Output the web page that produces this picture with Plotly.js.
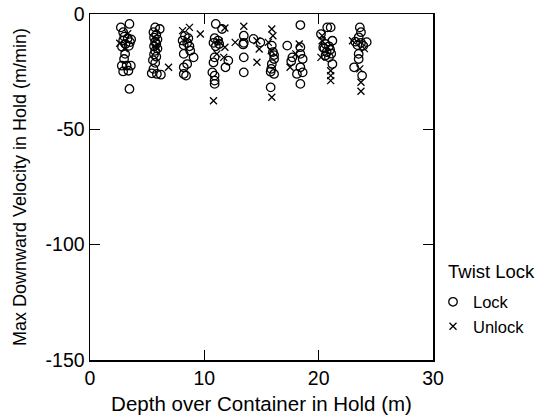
<!DOCTYPE html>
<html>
<head>
<meta charset="utf-8">
<script src="https://cdn.plot.ly/plotly-3.0.1.min.js"></script>
<style>html,body{margin:0;padding:0;background:#fff;}#chart{width:560px;height:420px;}</style>
</head>
<body>
<div id="chart"></div>
<script>
// Lock (open circles)
const lockDepth = [
  2.7,3.45,2.9,3.0,3.3,2.9,3.5,3.1,3.4,2.8,3.6,3.07,2.98,2.78,3.2,3.57,2.9,3.36,3.45,
  5.7,6.1,5.55,5.8,5.6,5.9,5.7,5.8,5.6,5.9,5.7,5.6,5.8,5.5,5.7,5.55,5.4,5.85,6.2,
  8.3,8.6,8.1,8.5,8.2,8.7,8.2,8.77,9.06,8.5,8.2,8.2,8.4,
  11.0,11.55,10.9,11.2,10.8,11.3,11.0,10.9,10.8,12.1,11.85,10.7,10.9,10.9,10.9,
  13.45,13.45,13.4,13.45,13.45,14.3,14.9,
  15.9,16.1,15.9,15.85,16.1,15.8,15.8,16.0,16.1,
  18.4,17.25,17.7,18.4,18.4,18.6,18.4,18.1,18.6,18.4,17.6,
  20.75,21.05,20.2,21.2,20.6,20.9,20.5,21.0,20.7,21.1,20.6,20.9,21.2,20.4,
  23.6,23.7,23.5,23.2,23.7,24.2,23.4,23.9,23.5,23.5,23.1,23.8
];
const lockVel = [
  -5.8,-4.3,-7.9,-9.8,-10.5,-11.5,-12.2,-13.0,-13.8,-14.2,-11.0,-17.3,-19.5,-22.4,-22.4,-22.4,-24.9,-24.6,-32.5,
  -5.8,-6.5,-7.9,-9.0,-10.2,-11.0,-12.0,-13.0,-14.0,-15.0,-16.0,-17.5,-18.5,-20.0,-21.2,-23.8,-25.7,-26.0,-26.3,
  -9.5,-10.5,-11.5,-12.5,-13.5,-14.0,-17.3,-15.9,-18.8,-21.7,-23.1,-26.0,-26.7,
  -4.3,-6.5,-10.5,-11.5,-12.5,-13.0,-14.0,-18.8,-21.0,-20.2,-23.1,-25.3,-26.7,-28.9,-30.3,
  -9.4,-12.5,-13.2,-18.8,-25.3,-10.8,-12.3,
  -13.7,-19.5,-21.7,-23.8,-26.0,-25.0,-31.8,-16.5,-17.8,
  -4.8,-13.7,-18.8,-14.4,-17.3,-19.5,-23.1,-26.0,-25.3,-30.3,-20.5,
  -5.8,-5.8,-8.7,-11.6,-13.0,-14.0,-15.0,-15.5,-16.5,-17.2,-18.0,-18.8,-21.7,-14.5,
  -5.8,-7.9,-10.1,-12.0,-12.5,-12.2,-13.5,-13.8,-17.3,-19.5,-23.1,-26.7
];
// Unlock (x marks)
const unlockDepth = [
  2.6,3.3,3.0,5.8,6.87,8.1,8.7,9.65,8.5,11.8,11.8,11.1,11.7,10.8,11.3,13.45,12.7,
  14.6,14.8,14.6,15.9,16.0,15.6,15.85,15.9,17.5,18.0,18.3,20.3,20.2,20.3,21.05,21.05,21.05,
  22.96,23.6,23.7,23.7,24.0
];
const unlockVel = [
  -12.7,-8.5,-15.0,-14.5,-23.1,-7.2,-5.8,-8.7,-11.0,-6.1,-14.4,-17.3,-18.8,-37.6,-12.0,-5.3,-12.3,
  -11.6,-15.2,-20.9,-6.5,-9.4,-12.3,-15.9,-36.1,-23.1,-17.3,-13.0,-11.6,-18.8,-9.4,-24.6,-26.7,-28.9,
  -11.6,-23.8,-29.6,-33.5,-15.0
];
const xTicks = [0, 10, 20, 30];
const yTicks = [0, -50, -100, -150];
const yTickText = ["0", "-50", "-100", "-150"];
const seriesNames = ["Lock", "Unlock"];
const legendTitle = "Twist Lock";
const xTitle = "Depth over Container in Hold (m)";
const yTitle = "Max Downward Velocity in Hold (m/min)";

const FONT = "Liberation Sans, Arial, sans-serif";

const traces = [
  {
    x: lockDepth, y: lockVel, name: seriesNames[0], type: "scatter", mode: "markers",
    marker: {symbol: "circle-open", size: 8.5, color: "#000", line: {width: 1.3, color: "#000"}}
  },
  {
    x: unlockDepth, y: unlockVel, name: seriesNames[1], type: "scatter", mode: "markers",
    marker: {symbol: "x-thin-open", size: 7, color: "#000", line: {width: 1.3, color: "#000"}}
  }
];

const axisCommon = {
  showgrid: false, zeroline: false, showline: true, linecolor: "#000", linewidth: 1.5,
  mirror: "ticks", ticks: "inside", ticklen: 10, tickwidth: 1.3, tickcolor: "#000",
  tickfont: {family: FONT, size: 19.5, color: "#000"}
};

const layout = {
  width: 560, height: 420,
  margin: {l: 90, r: 127, t: 14, b: 60},
  paper_bgcolor: "#fff", plot_bgcolor: "#fff",
  font: {family: FONT, color: "#000"},
  xaxis: Object.assign({}, axisCommon, {
    range: [0, 30], tickvals: xTicks,
    title: {text: xTitle, font: {family: FONT, size: 20.5, color: "#000"}, standoff: 8}
  }),
  yaxis: Object.assign({}, axisCommon, {
    range: [-150, 0], tickvals: yTicks, ticktext: yTickText,
    title: {text: yTitle, font: {family: FONT, size: 18, color: "#000"}, standoff: 14}
  }),
  showlegend: true,
  legend: {
    x: 1.0, xanchor: "left", y: 0.218, yanchor: "top",
    font: {family: FONT, size: 16.5, color: "#000"},
    bgcolor: "rgba(0,0,0,0)", tracegroupgap: 0, itemsizing: "trace"
  },
  annotations: [{
    text: legendTitle, xref: "paper", yref: "paper", x: 1.038, xanchor: "left",
    y: 0.256, yanchor: "middle", showarrow: false,
    font: {family: FONT, size: 18.5, color: "#000"}
  }]
};

Plotly.newPlot("chart", traces, layout, {staticPlot: true, displayModeBar: false});
</script>
</body>
</html>
